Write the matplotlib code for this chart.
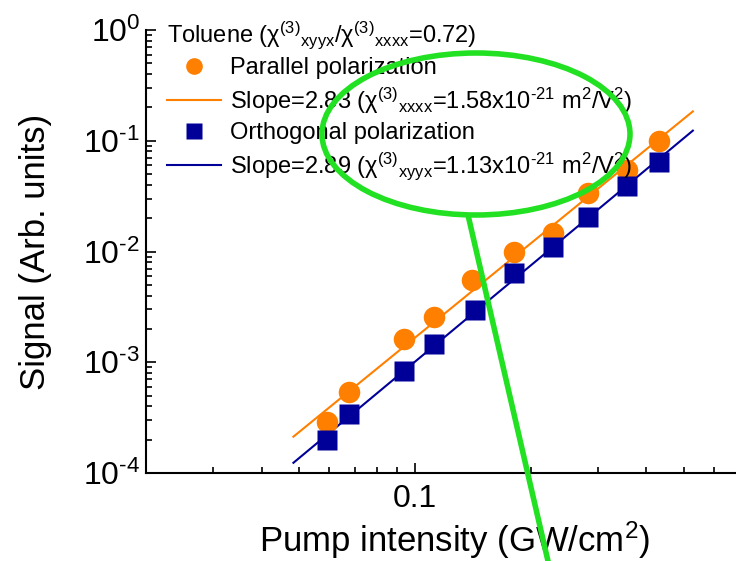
import matplotlib
matplotlib.use("Agg")
import matplotlib.pyplot as plt
from matplotlib.ticker import FixedLocator, FixedFormatter, NullFormatter, LogLocator, FuncFormatter
from matplotlib.patches import Ellipse
from matplotlib.lines import Line2D
import numpy as np

plt.rcParams['font.family'] = ['Liberation Sans', 'DejaVu Sans']
plt.rcParams['mathtext.fontset'] = 'custom'
plt.rcParams['mathtext.rm'] = 'Liberation Sans'
plt.rcParams['mathtext.it'] = 'Liberation Sans:italic'
plt.rcParams['mathtext.default'] = 'regular'

# Pump intensity (GW/cm^2)
intensity_par = [0.0591, 0.0673, 0.0939, 0.112, 0.141, 0.181, 0.229, 0.282, 0.356, 0.431]
intensity_orth = [0.0591, 0.0676, 0.0939, 0.112, 0.143, 0.181, 0.229, 0.282, 0.356, 0.431]
# Signal (arb. units)
signal_par = [2.90e-4, 5.35e-4, 1.62e-3, 2.58e-3, 5.53e-3, 9.96e-3, 1.47e-2, 3.37e-2, 5.45e-2, 1.00e-1]
signal_orth = [1.99e-4, 3.41e-4, 8.39e-4, 1.46e-3, 2.96e-3, 6.44e-3, 1.10e-2, 2.05e-2, 3.90e-2, 6.47e-2]

# Power-law fits: signal = A * I^slope
slope_par, log_amp_par = 2.83, 0.050
slope_orth, log_amp_orth = 2.89, -0.107
fit_range = [0.0484, 0.528]

orange = '#FF8000'
navy = '#000099'

fig = plt.figure(figsize=(7.36, 5.61), dpi=100)
ax = fig.add_axes([145.7 / 736, 88 / 561, (740 - 145.7) / 736, 443 / 561])
ax.set_xscale('log')
ax.set_yscale('log')
ax.set_xlim(0.02, 0.7)
ax.set_ylim(1e-4, 1)

xf = np.geomspace(fit_range[0], fit_range[1], 50)
ax.plot(xf, 10 ** log_amp_par * xf ** slope_par, color=orange, lw=1.5, zorder=2)
ax.plot(xf, 10 ** log_amp_orth * xf ** slope_orth, color=navy, lw=1.5, zorder=2)
ax.plot(intensity_par, signal_par, 'o', color=orange, ms=15.5, mec='none', zorder=3)
ax.plot(intensity_orth, signal_orth, 's', color=navy, ms=14.5, mec='none', zorder=3)

for s in ['top', 'right']:
    ax.spines[s].set_visible(False)
for s in ['left', 'bottom']:
    ax.spines[s].set_linewidth(1.5)


def decade_label(v, pos):
    e = int(round(np.log10(v)))
    return r'10$^{\text{%d}}$' % e


ax.xaxis.set_major_locator(FixedLocator([0.1]))
ax.xaxis.set_major_formatter(FixedFormatter(['0.1']))
ax.xaxis.set_minor_locator(LogLocator(base=10, subs=np.arange(2, 10)))
ax.xaxis.set_minor_formatter(NullFormatter())
ax.yaxis.set_major_locator(FixedLocator([1e-4, 1e-3, 1e-2, 1e-1, 1]))
ax.yaxis.set_major_formatter(FuncFormatter(decade_label))
ax.yaxis.set_minor_locator(LogLocator(base=10, subs=np.arange(2, 10), numticks=20))
ax.yaxis.set_minor_formatter(NullFormatter())
ax.tick_params(which='both', direction='in', width=1.2, labelsize=23)
ax.tick_params(which='major', length=7)
ax.tick_params(which='minor', length=4)
ax.tick_params(axis='x', pad=8)
ax.tick_params(axis='y', pad=4)

ax.set_xlabel('Pump intensity (GW/cm$^2$)', fontsize=25)
ax.set_ylabel('Signal (Arb. units)', fontsize=25)
ax.xaxis.set_label_coords((455 - 145.7) / 594.3, -0.105)
ax.yaxis.set_label_coords(-0.158, 0.5)

handles = [
    Line2D([], [], ls='none', marker='o', color=orange, ms=12, mec='none'),
    Line2D([], [], color=orange, lw=1.5),
    Line2D([], [], ls='none', marker='s', color=navy, ms=11, mec='none'),
    Line2D([], [], color=navy, lw=1.5),
]
labels = [
    'Parallel polarization',
    'Slope=2.83 (χ$^{(3)}{}_{xxxx}$=1.58x10$^{\\text{-21}}$ m$^2$/V$^2$)',
    'Orthogonal polarization',
    'Slope=2.89 (χ$^{(3)}{}_{xyyx}$=1.13x10$^{\\text{-21}}$ m$^2$/V$^2$)',
]
leg = ax.legend(handles, labels, loc='upper left',
                bbox_to_anchor=(167 / 736, 1 - 19 / 561), bbox_transform=fig.transFigure,
                frameon=False, fontsize=17, handlelength=2.3, handletextpad=0.35,
                labelspacing=0.27, borderaxespad=0, borderpad=0,
                title='Toluene (χ$^{(3)}{}_{xyyx}$/χ$^{(3)}{}_{xxxx}$=0.72)',
                title_fontsize=17, alignment='left')

# Hand-drawn highlight over the legend
over = fig.add_axes([0, 0, 1, 1], zorder=10)
over.set_xlim(0, 736)
over.set_ylim(561, 0)
over.axis('off')
over.patch.set_alpha(0)
over.add_patch(Ellipse((476, 134), 308, 162, fill=False, ec='#22E022', lw=4.0))
over.plot([468, 557], [215, 600], color='#22E022', lw=4.0, solid_capstyle='butt')

fig.savefig('out.png', dpi=100)
